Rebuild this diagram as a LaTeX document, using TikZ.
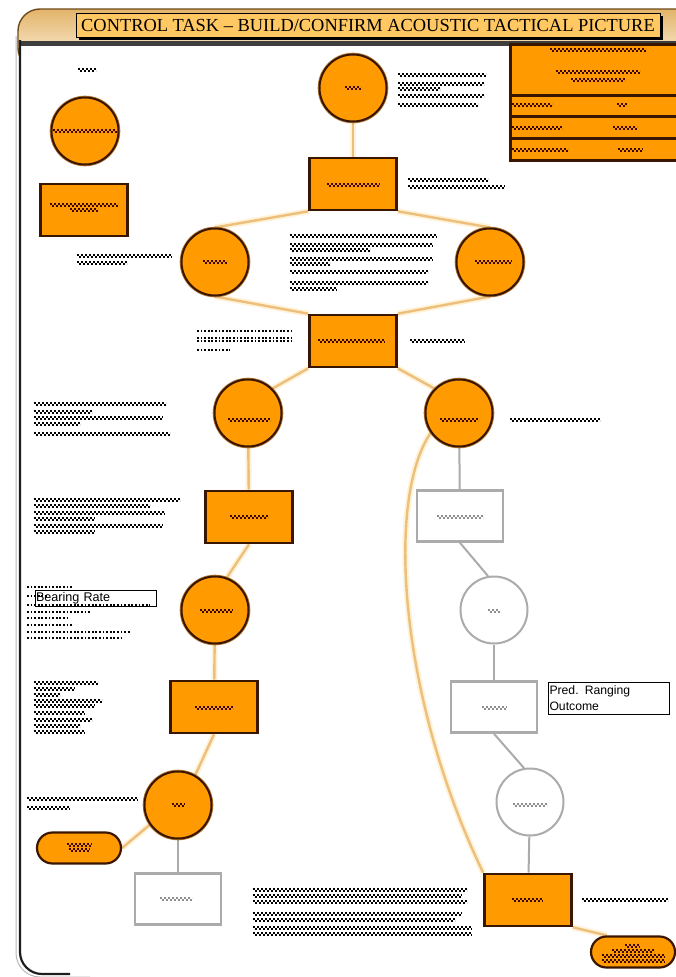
\documentclass[tikz,border=0pt]{standalone}
\usepackage{fontspec}
\setmainfont{Liberation Serif}
\newfontfamily\arialf{Liberation Sans}
\usetikzlibrary{shapes.misc}
\pgfdeclarelayer{back}
\pgfdeclarelayer{links}
\pgfsetlayers{back,links,main}

\definecolor{orangeF}{HTML}{FF9A00}
\definecolor{brownD}{HTML}{3A1600}
\definecolor{brownR}{HTML}{B47A3A}
\definecolor{labC}{HTML}{3E0800}
\definecolor{tanC}{HTML}{EDBF7C}
\definecolor{tanGlow}{HTML}{FFF2D6}
\definecolor{grayC}{HTML}{ABABAB}
\definecolor{grayT}{HTML}{8E8E8E}
\definecolor{hdrTop}{HTML}{E3B46A}
\definecolor{hdrBot}{HTML}{FFF8E8}
\definecolor{hdrEdge}{HTML}{6E4A1A}
\definecolor{bandC}{HTML}{3E3E3E}
\definecolor{titleF}{HTML}{FFC862}
\definecolor{frameC}{HTML}{1E1E1E}

% checkered stand-in for a line of very small print: [colour]{x1}{x2}{y}
\newcommand\grk[4][black]{%
  \draw[#1,line width=2pt,dash pattern=on 2pt off 2pt] (#2,#4-1) -- (#3,#4-1);
  \draw[#1,line width=2pt,dash pattern=on 2pt off 2pt,dash phase=2pt] (#2,#4+1) -- (#3,#4+1);}
% dotted stand-in: [colour]{x1}{x2}{y}
\newcommand\grd[4][black]{%
  \draw[#1,line width=1.8pt,dash pattern=on 1.8pt off 1.8pt] (#2,#4) -- (#3,#4);}

\begin{document}
\begin{tikzpicture}[x=1pt,y=-1pt,
  ocirc/.style={circle,fill=orangeF,draw=brownD,line width=2pt,minimum size=67pt,inner sep=0pt,
    preaction={draw=brownR,line width=3.6pt}},
  orect/.style={rectangle,fill=orangeF,draw=brownD,line width=2.6pt,minimum width=87pt,minimum height=52pt,inner sep=0pt},
  ostad/.style={rounded rectangle,fill=orangeF,draw=brownD,line width=2.2pt,minimum width=84pt,minimum height=31pt,inner sep=0pt},
  gcirc/.style={circle,fill=white,draw=grayC,line width=2pt,minimum size=67pt,inner sep=0pt},
  grect/.style={rectangle,fill=white,draw=grayC,line width=2.6pt,minimum width=86pt,minimum height=51pt,inner sep=0pt},
  tanline/.style={draw=tanC,line width=2.4pt,preaction={draw=tanGlow,line width=6pt}},
  grayline/.style={draw=grayC,line width=2pt},
  tagbox/.style={draw=black,line width=0.6pt,inner sep=1pt,minimum width=121pt,text width=119pt,align=left}
]
\useasboundingbox (0,0) rectangle (676,977);
\clip (0,0) rectangle (676,977);

% ---------- frame and header band ----------
\begin{pgfonlayer}{back}
  \fill[white] (0,0) rectangle (676,977);
  \path[draw=hdrEdge,line width=1.4pt,top color=hdrTop,bottom color=hdrBot,rounded corners=22pt]
    (18,9) rectangle (740,70);
  \fill[white] (21,46) rectangle (676,977);
  \fill[bandC] (20,41) rectangle (676,46);
  \draw[gray!55,line width=1pt,rounded corners=24pt] (16,36) -- (16,977) -- (90,977);
  \draw[frameC,line width=2.2pt,rounded corners=22pt] (20,40) -- (20,974) -- (70,974);
\end{pgfonlayer}

% ---------- title ----------
\fill[black] (79,16) rectangle (663,40);
\node[draw=black,line width=0.8pt,fill=titleF,minimum width=584pt,minimum height=24pt,inner sep=0pt,
  font=\fontsize{18.4}{20}\selectfont] (title) at (368,25)
  {CONTROL TASK – BUILD/CONFIRM ACOUSTIC TACTICAL PICTURE};

% ---------- summary table, top right ----------
\filldraw[fill=orangeF,draw=brownD,line width=3pt] (510,44) rectangle (690,160);
\draw[brownD,line width=3pt] (510,95) -- (690,95) (510,116.5) -- (690,116.5) (510,138.5) -- (690,138.5);
\grk[labC]{550}{646}{50}
\grk[labC]{556}{640}{72}
\grk[labC]{571}{625}{80}
\grk[labC]{512}{552}{105}  \grk[labC]{617}{627}{105}
\grk[labC]{512}{562}{128}  \grk[labC]{613}{637}{128}
\grk[labC]{512}{568}{150}  \grk[labC]{618}{643}{150}

% ---------- key ----------
\node[ocirc] (lc) at (85,131) {};
\node[orect] (lr) at (84,210) {};
\grk{78}{96}{70}
\grk[labC]{53}{117}{131}
\grk[labC]{50}{118}{205}
\grk[labC]{70}{98}{210}

% ---------- nodes ----------
\node[ocirc] (c1) at (353,88) {};
\node[orect] (r1) at (353,184) {};
\node[ocirc] (c2) at (215,262) {};
\node[ocirc] (c3) at (490,262) {};
\node[orect] (r2) at (353,341) {};
\node[ocirc] (c4) at (248,413) {};
\node[ocirc] (c5) at (459,413) {};
\node[orect] (r3) at (249,517) {};
\node[ocirc] (c6) at (215,610) {};
\node[orect] (r4) at (214,707) {};
\node[ocirc] (c7) at (178,805) {};
\node[ostad] (s1) at (79,848) {};
\node[grect] (g1) at (178,899) {};
\node[grect] (g2) at (460,516) {};
\node[gcirc] (g3) at (494,610) {};
\node[grect] (g4) at (494,707) {};
\node[gcirc] (g5) at (530,802) {};
\node[orect] (r7) at (528,900) {};
\node[ostad] (s2) at (633,952) {};

% ---------- connectors ----------
\begin{pgfonlayer}{links}
  \draw[tanline] (c1) -- (r1);
  \draw[tanline] (r1.south west) -- (c2.north);
  \draw[tanline] (r1.south east) -- (c3.north);
  \draw[tanline] (c2.south) -- (r2.north west);
  \draw[tanline] (c3.south) -- (r2.north east);
  \draw[tanline] (r2.south west) -- (c4.north east);
  \draw[tanline] (r2.south east) -- (c5.north west);
  \draw[tanline] (c4) -- (r3);
  \draw[tanline] (r3.south) -- (c6.70);
  \draw[tanline] (c6) -- (r4);
  \draw[tanline] (r4.south) -- (c7.60);
  \draw[tanline] (c7.215) -- (s1.east);
  \draw[tanline] (c5.215) .. controls (385,500) and (400,700) .. (r7.north west);
  \draw[tanline] (r7.south east) -- (s2.north west);
  \draw[grayline] (c7) -- (g1);
  \draw[grayline] (c5) -- (g2);
  \draw[grayline] (g2.south) -- (g3.100);
  \draw[grayline] (g3) -- (g4);
  \draw[grayline] (g4.south) -- (g5.100);
  \draw[grayline] (g5) -- (r7);
\end{pgfonlayer}

% ---------- labels inside the shapes ----------
\grk[labC]{345}{361}{88}
\grk[labC]{327}{380}{185}
\grk[labC]{203}{227}{262}
\grk[labC]{475}{512}{262}
\grk[labC]{318}{385}{341}
\grk[labC]{228}{270}{420}
\grk[labC]{440}{478}{420}
\grk[labC]{230}{268}{517}
\grk[labC]{200}{233}{611}
\grk[labC]{195}{233}{708}
\grk[labC]{172}{185}{805}
\grk[labC]{67}{92}{845}  \grk[labC]{69}{90}{850}
\grk[labC]{512}{543}{900}
\grk[labC]{625}{640}{946} \grk[labC]{612}{654}{951} \grk[labC]{602}{665}{956} \grk[labC]{602}{665}{961}
\grk[grayT]{437}{483}{517}
\grk[grayT]{488}{500}{611}
\grk[grayT]{482}{507}{708}
\grk[grayT]{513}{547}{805}
\grk[grayT]{160}{192}{899}

% ---------- notes beside the shapes ----------
% beside c1
\grk{398}{486}{75} \grk{398}{484}{84} \grk{398}{440}{89} \grk{398}{484}{96} \grk{398}{478}{105}
% beside r1
\grk{408}{488}{180} \grk{408}{505}{187}
% beside c2
\grk{77}{172}{256} \grk{77}{127}{263}
% between c2 and c3
\grk{290}{437}{236} \grk{290}{433}{245} \grk{290}{370}{250} \grk{290}{433}{259}
\grk{290}{330}{264} \grk{290}{428}{272} \grk{290}{428}{283} \grk{290}{337}{289}
% beside r2
\grd{197}{292}{331} \grd{197}{292}{338} \grd{197}{292}{341} \grd{197}{230}{350}
\grk{410}{465}{341}
% beside c4
\grk{34}{166}{404} \grk{34}{92}{412} \grk{34}{163}{418} \grk{34}{80}{424} \grk{34}{170}{434}
% beside c5
\grk{510}{600}{420}
% beside r3
\grk{34}{180}{500} \grk{34}{150}{506} \grk{34}{165}{513} \grk{34}{95}{519} \grk{34}{163}{526} \grk{34}{95}{532}
% beside c6
\grd{27}{72}{587} \grd{27}{48}{596} \grd{27}{150}{605} \grd{27}{91}{612}
\grd{27}{67}{618} \grd{27}{72}{625} \grd{27}{130}{632} \grd{27}{123}{638}
\node[tagbox,minimum height=16pt,font=\arialf\fontsize{12.6}{14}\selectfont] (brate) at (95.5,598) {Bearing Rate};
% beside r4
\grk{34}{98}{683} \grk{34}{75}{689} \grk{34}{60}{695} \grk{34}{102}{701} \grk{34}{95}{706}
\grk{34}{85}{713} \grk{34}{92}{720} \grk{34}{80}{726} \grk{34}{85}{732}
% beside c7
\grk{27}{138}{799} \grk{27}{70}{808}
% beside g4
\node[tagbox,fill=white,minimum height=32pt,font=\arialf\fontsize{12.2}{16}\selectfont] (pred) at (609,698)
  {Pred. Ranging\\Outcome};
% beside r7
\grk{253}{467}{890} \grk{253}{462}{896} \grk{253}{467}{902} \grk{253}{462}{914}
\grk{253}{455}{920} \grk{253}{472}{928} \grk{253}{472}{934}
\grk{582}{668}{900}
\end{tikzpicture}
\end{document}
